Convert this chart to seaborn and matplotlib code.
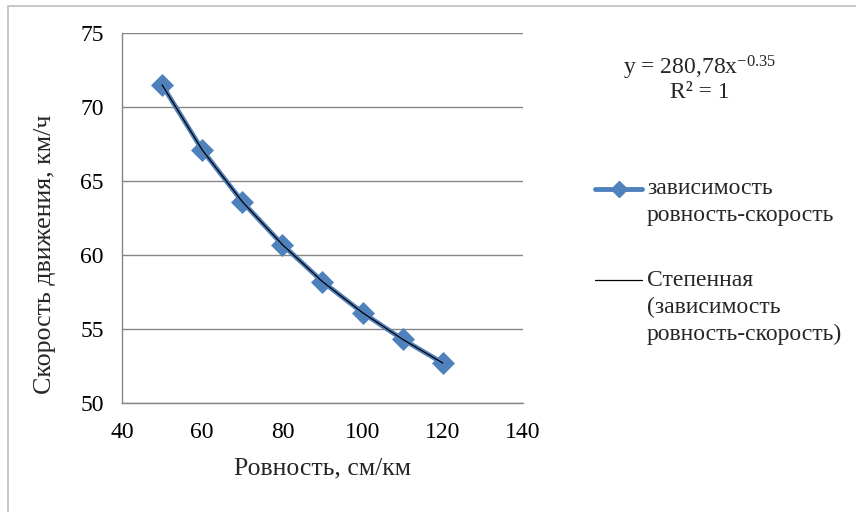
import matplotlib
matplotlib.use("Agg")
import matplotlib.pyplot as plt
import seaborn as sns
import pandas as pd
from matplotlib.lines import Line2D
from matplotlib.patches import Rectangle

evenness = [50, 60, 70, 80, 90, 100, 110, 120]
speed = [71.5, 67.1, 63.6, 60.7, 58.2, 56.1, 54.3, 52.7]
series_lines = ["зависимость", "ровность-скорость"]
trend_lines = ["Степенная", "(зависимость", "ровность-скорость)"]
equation = "y = 280,78x$^{-0.35}$"
r2_text = "R² = 1"
x_ticks = [40, 60, 80, 100, 120, 140]
y_ticks = [50, 55, 60, 65, 70, 75]

sns.set_style("white")
plt.rcParams['font.family'] = ['Liberation Serif', 'DejaVu Serif']
plt.rcParams['mathtext.default'] = 'regular'

df = pd.DataFrame({"x": evenness, "y": speed})

W, H = 856, 512
fig = plt.figure(figsize=(W / 100, H / 100), dpi=100)
ax = fig.add_axes([122 / W, 1 - 403 / H, (523 - 122) / W, (403 - 33) / H])

blue = "#4F81BD"
grey = "#868686"
sns.lineplot(data=df, x="x", y="y", ax=ax, color=blue, linewidth=3.5,
             marker="D", markersize=11, markeredgecolor=blue, markeredgewidth=0.5, zorder=3)
ax.plot(df["x"], df["y"], color="black", linewidth=0.9, zorder=4)

ax.set_xlim(40, 140)
ax.set_ylim(50, 75)
ax.set_xticks(x_ticks)
ax.set_yticks(y_ticks)
ax.tick_params(axis='both', labelsize=17, colors=grey, labelcolor='black',
               length=8, width=1, direction='out')
ax.tick_params(axis='x', pad=6)
ax.tick_params(axis='y', pad=5)
ax.yaxis.grid(True, color=grey, linewidth=1)
ax.xaxis.grid(False)
for s in ['top', 'right']:
    ax.spines[s].set_visible(False)
for s in ['left', 'bottom']:
    ax.spines[s].set_color(grey)
    ax.spines[s].set_linewidth(1)
ax.set_xlabel("Ровность, см/км", fontsize=18.5, labelpad=10)
ax.set_ylabel("Скорость движения, км/ч", fontsize=18.7)
ax.yaxis.set_label_coords((56 - 122) / 401, (403 - 254) / 370)

fig.text(700 / W, 1 - 68 / H, equation, fontsize=17, ha='center', va='center')
fig.text(700 / W, 1 - 93 / H, r2_text, fontsize=17, ha='center', va='center')

# legend
tx = 647 / W
y1 = 189
fig.add_artist(Line2D([595 / W, 642 / W], [1 - y1 / H] * 2, transform=fig.transFigure,
                      color=blue, linewidth=3.5))
fig.add_artist(Line2D([618.5 / W], [1 - y1 / H], transform=fig.transFigure,
                      color=blue, marker="D", markersize=8, linestyle='none'))
for i, t in enumerate(series_lines):
    fig.text(tx, 1 - (y1 + 27 * i) / H, t, fontsize=17, ha='left', va='center')
y2 = 280
fig.add_artist(Line2D([595 / W, 642 / W], [1 - y2 / H] * 2, transform=fig.transFigure,
                      color="black", linewidth=0.9))
for i, t in enumerate(trend_lines):
    fig.text(tx, 1 - (y2 + 27 * i) / H, t, fontsize=17, ha='left', va='center')

fig.patches.append(Rectangle((8 / W, -0.1), 1.0, 1 - 6 / H + 0.1, transform=fig.transFigure,
                             fill=False, edgecolor='#bfbfbf', linewidth=1.2))
fig.savefig("out.png", dpi=100)
